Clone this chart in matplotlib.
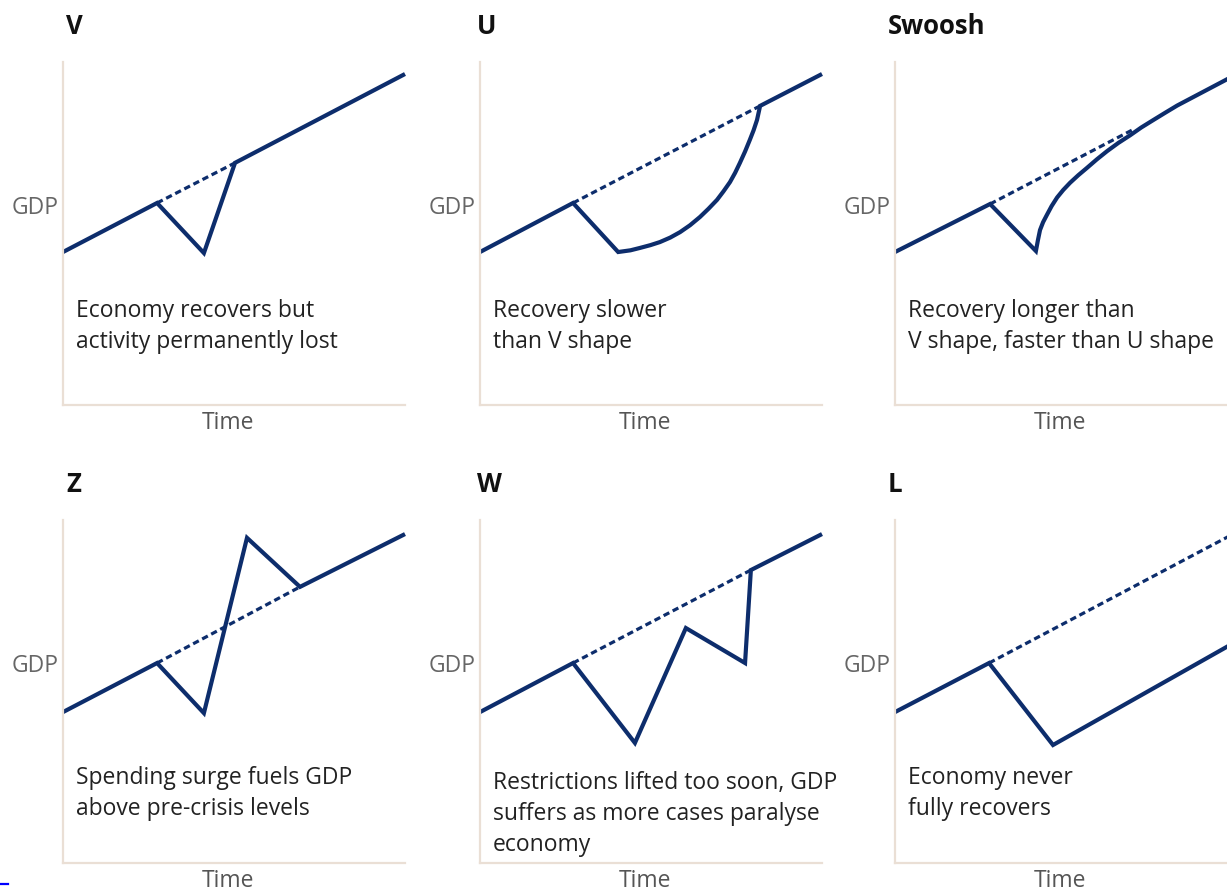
import matplotlib.pyplot as plt
from matplotlib.lines import Line2D

plt.rcParams['font.family'] = ['Open Sans', 'DejaVu Sans']

W, H = 1227, 892
NAVY = '#0d2d6c'
SPINE = '#eadfd5'

# six recovery shapes, x = time (0-100), y = GDP (0-100)
titles = ['V', 'U', 'Swoosh', 'Z', 'W', 'L']

v_x = [0, 27.5, 41.2, 50.3, 100]
v_y = [44.6, 58.9, 44.3, 70.6, 96.5]
v_trend_x = [27.5, 50.3]
v_trend_y = [58.9, 70.6]

u_x = [0, 27.2, 40.4, 44.0, 46.8, 49.8, 52.6, 55.6, 58.5, 61.4, 64.3, 66.8, 69.3,
       71.2, 73.1, 74.6, 76.0, 77.5, 78.9, 80.0, 81.0, 81.9, 100]
u_y = [44.6, 58.9, 44.6, 45.1, 45.8, 46.6, 47.5, 48.8, 50.4, 52.4, 54.8, 57.2, 59.8,
       62.3, 65.0, 67.7, 70.6, 73.9, 77.3, 80.1, 83.1, 87.2, 96.5]
u_trend_x = [27.2, 81.9]
u_trend_y = [58.9, 87.2]

sw_x = [0, 27.8, 41.2, 41.8, 42.4, 43.3, 44.4, 45.8, 47.4, 49.2, 51.2, 53.6, 56.1,
        59.0, 62.0, 65.3, 68.7, 72.0, 75.4, 79.0, 82.5, 100]
sw_y = [44.6, 58.6, 44.9, 48.1, 51.0, 53.3, 55.4, 58.0, 60.5, 62.7, 64.8, 67.0, 69.1,
        71.6, 74.0, 76.4, 78.6, 80.9, 83.0, 85.2, 87.3, 96.5]
sw_trend_x = [27.8, 70.0]
sw_trend_y = [58.6, 80.5]

z_x = [0, 27.5, 41.2, 53.8, 69.3, 100]
z_y = [44.0, 58.3, 43.7, 94.8, 80.5, 95.9]
z_trend_x = [27.5, 69.3]
z_trend_y = [58.3, 80.5]

w_x = [0, 27.2, 45.3, 60.2, 77.5, 79.2, 100]
w_y = [44.0, 58.3, 35.0, 68.5, 58.3, 85.4, 95.9]
w_trend_x = [27.2, 79.2]
w_trend_y = [58.3, 85.4]

l_x = [0, 27.5, 46.2, 100]
l_y = [44.0, 58.3, 34.4, 64.7]
l_trend_x = [27.5, 100]
l_trend_y = [58.3, 96.5]

solid = [(v_x, v_y), (u_x, u_y), (sw_x, sw_y), (z_x, z_y), (w_x, w_y), (l_x, l_y)]
dashed = [(v_trend_x, v_trend_y), (u_trend_x, u_trend_y), (sw_trend_x, sw_trend_y),
          (z_trend_x, z_trend_y), (w_trend_x, w_trend_y), (l_trend_x, l_trend_y)]

notes = [
    ['Economy recovers but', 'activity permanently lost'],
    ['Recovery slower', 'than V shape'],
    ['Recovery longer than', 'V shape, faster than U shape'],
    ['Spending surge fuels GDP', 'above pre-crisis levels'],
    ['Restrictions lifted too soon, GDP', 'suffers as more cases paralyse', 'economy'],
    ['Economy never', 'fully recovers'],
]

# panel layout in pixels
col_left = [63, 480, 895]
title_dx = [3, -3, -7]
row_bottom = [405, 863]
pw, ph = 342, 343
note_top = [249, 249, 249, 258, 263, 258]

fig = plt.figure(figsize=(W / 100, H / 100), dpi=100)


def ftext(x, y, s, **kw):
    fig.text(x / W, 1 - y / H, s, **kw)


for i in range(6):
    left = col_left[i % 3]
    bottom = row_bottom[i // 3]
    top = bottom - ph
    ax = fig.add_axes([left / W, 1 - bottom / H, pw / W, ph / H])
    ax.set_xlim(0, 100)
    ax.set_ylim(0, 100)
    ax.set_xticks([])
    ax.set_yticks([])
    for s in ['top', 'right']:
        ax.spines[s].set_visible(False)
    for s in ['left', 'bottom']:
        ax.spines[s].set_color(SPINE)
        ax.spines[s].set_linewidth(1.6)

    tx, ty = dashed[i]
    ax.plot(tx, ty, color=NAVY, lw=2.3, dashes=(2.0, 1.2), clip_on=False)
    sx, sy = solid[i]
    ax.plot(sx, sy, color=NAVY, lw=3.0, solid_joinstyle='miter',
            solid_capstyle='butt', clip_on=False)

    ftext(left + title_dx[i % 3], top - 35, titles[i], fontsize=18.5, fontweight='bold',
          color='#111111', ha='left', va='center')
    ftext(left - 4, bottom - 197, 'GDP', fontsize=16.5, color='#666666',
          ha='right', va='center')
    ftext(left + 165, bottom + 18, 'Time', fontsize=16.5, color='#555555',
          ha='center', va='center')
    for j, line in enumerate(notes[i]):
        ftext(left + 13, top + note_top[i] + j * 31, line, fontsize=16.5,
              fontweight=500, color='#222222', ha='left', va='center')

# stray link underline at bottom-left edge
fig.add_artist(Line2D([0, 8 / W], [1 - 884 / H, 1 - 884 / H], color='#0000ff', lw=1.6))

fig.savefig('out.png', dpi=100)
